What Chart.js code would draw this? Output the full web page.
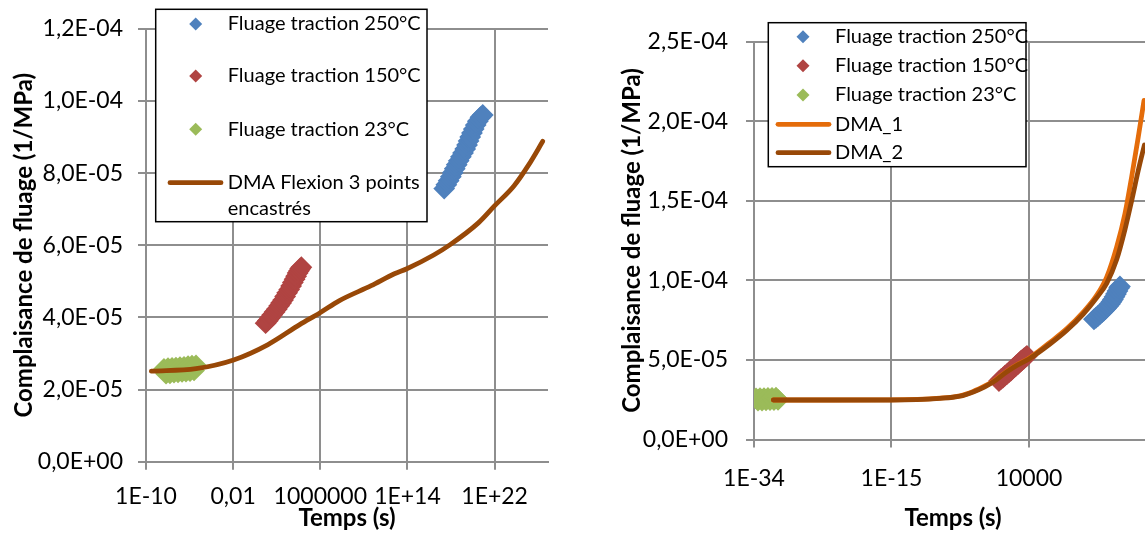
<!DOCTYPE html>
<html><head><meta charset="utf-8">
<script src="https://cdn.jsdelivr.net/npm/chart.js@4.4.1/dist/chart.umd.min.js"></script>
<style>
html,body{margin:0;padding:0;background:#fff;overflow:hidden;width:1145px;height:533px;}
#wrap{position:relative;width:1145px;height:533px;overflow:hidden;background:#fff;}
#cL{position:absolute;left:0;top:0;}
#cR{position:absolute;left:590px;top:0;}
</style></head><body>
<div id="wrap"><canvas id="cL" width="560" height="533"></canvas><canvas id="cR" width="600" height="533"></canvas></div>
<script>
// ---------- labels ----------
const seriesLabels = ["Fluage traction 250°C", "Fluage traction 150°C", "Fluage traction 23°C"];
const leftLineLabel = "DMA Flexion 3 points encastrés";
const leftLineLabelLines = ["DMA Flexion 3 points", "encastrés"];
const rightLineLabels = ["DMA_1", "DMA_2"];
const xTitle = "Temps (s)";
const yTitle = "Complaisance de fluage (1/MPa)";

// ---------- tick values & labels ----------
const leftXTicks = [1e-10, 1e-2, 1e6, 1e14, 1e22];
const leftXTickLabels = ["1E-10", "0,01", "1000000", "1E+14", "1E+22"];
const leftYTicks = [0, 2e-5, 4e-5, 6e-5, 8e-5, 1e-4, 1.2e-4];
const leftYTickLabels = ["0,0E+00", "2,0E-05", "4,0E-05", "6,0E-05", "8,0E-05", "1,0E-04", "1,2E-04"];
const rightXTicks = [1e-34, 1e-15, 1e4];
const rightXTickLabels = ["1E-34", "1E-15", "10000"];
const rightYTicks = [0, 5e-5, 1e-4, 1.5e-4, 2e-4, 2.5e-4];
const rightYTickLabels = ["0,0E+00", "5,0E-05", "1,0E-04", "1,5E-04", "2,0E-04", "2,5E-04"];

// ---------- LEFT chart data (x stored as log10 of time in s, y in 1/MPa) ----------
const L250_logt = [17.37,17.57,17.78,17.98,18.16,18.34,18.52,18.70,18.90,19.10,19.30,19.47,19.61,19.76,19.92,20.08,20.26,20.46,20.70,20.91];
const L250_J    = [7.57e-5,7.68e-5,7.79e-5,7.90e-5,8.01e-5,8.12e-5,8.23e-5,8.34e-5,8.45e-5,8.56e-5,8.67e-5,8.78e-5,8.89e-5,9.00e-5,9.11e-5,9.22e-5,9.33e-5,9.44e-5,9.55e-5,9.61e-5];
const L150_logt = [0.98,1.18,1.39,1.59,1.80,2.01,2.22,2.40,2.58,2.77,2.95,3.14,3.32,3.48,3.64,3.78,3.92,4.04,4.15,4.26];
const L150_J    = [3.84e-5,3.91e-5,3.99e-5,4.07e-5,4.15e-5,4.23e-5,4.32e-5,4.40e-5,4.48e-5,4.58e-5,4.68e-5,4.77e-5,4.87e-5,4.97e-5,5.06e-5,5.14e-5,5.23e-5,5.29e-5,5.35e-5,5.39e-5];
const L23_logt  = [-8.35,-8.16,-7.98,-7.80,-7.61,-7.43,-7.25,-7.06,-6.88,-6.69,-6.51,-6.33,-6.14,-5.96,-5.78,-5.59,-5.41];
const L23_J     = [2.57e-5,2.44e-5,2.59e-5,2.45e-5,2.60e-5,2.47e-5,2.61e-5,2.48e-5,2.62e-5,2.49e-5,2.63e-5,2.50e-5,2.65e-5,2.51e-5,2.66e-5,2.53e-5,2.67e-5];
const LDMA_logt = [-9.51,-5.41,-1.96,1.16,4.11,5.98,7.72,10.67,12.8,13.95,16.41,17.89,20.51,21.99,23.79,25.11,26.42];
const LDMA_J    = [2.51e-5,2.58e-5,2.82e-5,3.24e-5,3.80e-5,4.13e-5,4.46e-5,4.88e-5,5.21e-5,5.35e-5,5.73e-5,6.01e-5,6.62e-5,7.09e-5,7.65e-5,8.22e-5,8.88e-5];

// ---------- RIGHT chart data ----------
const R250_logt = [12.98,13.25,13.53,13.81,14.08,14.36,14.64,14.91,15.19,15.40,15.60,15.81,16.02,16.23,16.44,16.57];
const R250_J    = [7.55e-5,7.65e-5,7.76e-5,7.87e-5,7.98e-5,8.10e-5,8.23e-5,8.37e-5,8.51e-5,8.65e-5,8.79e-5,8.96e-5,9.14e-5,9.33e-5,9.52e-5,9.61e-5];
const R150_logt = [-0.15,0.13,0.41,0.68,0.96,1.24,1.51,1.76,2.00,2.23,2.48,2.69,2.89,3.10,3.31,3.52,3.72];
const R150_J    = [3.67e-5,3.79e-5,3.89e-5,4.01e-5,4.11e-5,4.23e-5,4.33e-5,4.45e-5,4.55e-5,4.65e-5,4.74e-5,4.84e-5,4.93e-5,5.01e-5,5.09e-5,5.17e-5,5.25e-5];
const R23_logt  = [-33.72,-33.45,-33.17,-32.89,-32.62,-32.34,-32.07,-31.79,-31.51,-31.24,-30.96,-30.68];
const R23_J     = [2.58e-5,2.44e-5,2.59e-5,2.45e-5,2.60e-5,2.46e-5,2.61e-5,2.47e-5,2.62e-5,2.48e-5,2.63e-5,2.49e-5];
const RDMA1_logt = [-31.33,-24.9,-15,-8.3,-5.5,-3.7,-2.1,-0.9,0.9,2.5,4.0,6.9,9.2,11.5,13.35,14.74,16.12,17.27,18.19,19.1,19.9];
const RDMA1_J    = [2.48e-5,2.48e-5,2.49e-5,2.60e-5,2.75e-5,3.02e-5,3.36e-5,3.66e-5,4.28e-5,4.74e-5,5.10e-5,6.10e-5,6.95e-5,8.00e-5,9.05e-5,1.02e-4,1.21e-4,1.42e-4,1.65e-4,1.90e-4,2.13e-4];
const RDMA2_logt = [-31.33,-24.9,-15,-8.3,-5.5,-3.7,-2.1,-0.9,0.9,2.5,4.0,6.9,9.2,11.5,13.35,14.74,16.12,17.27,18.19,19.1,19.95];
const RDMA2_J    = [2.48e-5,2.48e-5,2.48e-5,2.58e-5,2.72e-5,2.99e-5,3.31e-5,3.62e-5,4.24e-5,4.70e-5,5.06e-5,6.00e-5,6.85e-5,7.88e-5,8.90e-5,9.81e-5,1.13e-4,1.32e-4,1.50e-4,1.69e-4,1.85e-4];

// ---------- styles ----------
const C_BLUE = '#4F81BD', C_RED = '#B04442', C_GREEN = '#9BBB59', C_BROWN = '#984807', C_ORANGE = '#E46C0A';
const GRID = '#8E8E8E';
const FONT = 'Lato';

function pts(logt, vals) { return logt.map((e, i) => ({ x: Math.pow(10, e), y: vals[i] })); }

function markerDS(label, logt, vals, color) {
  return { label, data: pts(logt, vals), showLine: false, pointStyle: 'rectRot', pointRadius: 9.5,
    backgroundColor: color, borderColor: color, pointBackgroundColor: color, pointBorderColor: color,
    pointBorderWidth: 2, order: 2 };
}
function lineDS(label, logt, vals, color, order) {
  return { label, data: pts(logt, vals), showLine: true, pointRadius: 0, borderColor: color,
    backgroundColor: color, borderWidth: 4.8, borderCapStyle: 'round', borderJoinStyle: 'round',
    cubicInterpolationMode: 'monotone', order };
}

function makeOptions(c) {
  return {
    responsive: false, animation: false, devicePixelRatio: 1,
    layout: { padding: { left: 0, top: c.top, right: c.right, bottom: 0 } },
    plugins: { legend: { display: false }, tooltip: { enabled: false } },
    scales: {
      x: {
        type: 'logarithmic', position: 'bottom', min: c.xMin, max: c.xMax,
        afterBuildTicks: s => { s.ticks = c.xTicks.map(v => ({ value: v })); },
        afterFit: s => { s.height = c.xH; },
        ticks: { autoSkip: false, maxRotation: 0, minRotation: 0, padding: c.xPad, color: '#000',
          font: { family: FONT, size: 23 }, callback: (v, i) => c.xLabels[i] },
        grid: { color: GRID, lineWidth: 2, drawTicks: true, tickLength: 8, tickColor: GRID, tickWidth: 2 },
        border: { display: true, color: GRID, width: 2 },
        title: { display: true, text: xTitle, color: '#000', font: { family: FONT, size: 24, weight: 'bold' }, padding: { top: 0, bottom: 0 } }
      },
      y: {
        type: 'linear', position: 'left', min: 0, max: c.yMax,
        afterBuildTicks: s => { s.ticks = c.yTicks.map(v => ({ value: v })); },
        afterFit: s => { s.width = c.yW; },
        ticks: { padding: c.yPad, color: '#000', font: { family: FONT, size: 23 }, callback: (v, i) => c.yLabels[i] },
        grid: { color: GRID, lineWidth: 2, drawTicks: true, tickLength: 8, tickColor: GRID, tickWidth: 2 },
        border: { display: true, color: GRID, width: 2 },
        title: { display: true, text: yTitle, color: '#000', font: { family: FONT, size: 24, weight: 'bold' }, padding: { top: c.yTitlePad, bottom: 0 } }
      }
    }
  };
}

function legendPlugin(spec) {
  return {
    id: 'boxLegend',
    afterDraw(chart) {
      const ctx = chart.ctx;
      ctx.save();
      const [bx, by, bw, bh] = spec.box;
      ctx.fillStyle = '#fff';
      ctx.fillRect(bx, by, bw, bh);
      ctx.lineWidth = 1.5;
      ctx.strokeStyle = '#000';
      ctx.strokeRect(bx, by, bw, bh);
      ctx.font = '20px ' + FONT;
      ctx.textBaseline = 'middle';
      ctx.textAlign = 'left';
      spec.rows.forEach(r => {
        const ds = chart.data.datasets[r.ds];
        if (r.kind === 'marker') {
          const m = spec.markerX, s = 6.5;
          ctx.beginPath();
          ctx.moveTo(m, r.y - s); ctx.lineTo(m + s, r.y); ctx.lineTo(m, r.y + s); ctx.lineTo(m - s, r.y);
          ctx.closePath();
          ctx.fillStyle = ds.backgroundColor;
          ctx.fill();
        } else {
          ctx.beginPath();
          ctx.moveTo(spec.lineX0, r.y); ctx.lineTo(spec.lineX1, r.y);
          ctx.strokeStyle = ds.borderColor; ctx.lineWidth = ds.borderWidth; ctx.lineCap = 'round';
          ctx.stroke();
        }
        ctx.fillStyle = '#000';
        const lines = r.lines || [ds.label];
        lines.forEach((t, k) => ctx.fillText(t, spec.textX, r.y + k * spec.lh));
      });
      ctx.restore();
    }
  };
}

function build() {
  // LEFT
  new Chart(document.getElementById('cL'), {
    type: 'scatter',
    data: { datasets: [
      markerDS(seriesLabels[0], L250_logt, L250_J, C_BLUE),
      markerDS(seriesLabels[1], L150_logt, L150_J, C_RED),
      markerDS(seriesLabels[2], L23_logt, L23_J, C_GREEN),
      lineDS(leftLineLabel, LDMA_logt, LDMA_J, C_BROWN, 0)
    ] },
    options: makeOptions({ top: 26, right: 12, xH: 71.3, yW: 146, xMin: 1e-10, xMax: Math.pow(10, 26.9),
      xTicks: leftXTicks, xLabels: leftXTickLabels, yTicks: leftYTicks, yLabels: leftYTickLabels, yMax: 1.2e-4,
      xPad: 13, yPad: 15, yTitlePad: 9.6 }),
    plugins: [legendPlugin({ box: [155.7, 9.3, 271.3, 212.4], markerX: 195.7, lineX0: 170, lineX1: 221, textX: 227.7, lh: 25.5,
      rows: [ { ds: 0, kind: 'marker', y: 24 }, { ds: 1, kind: 'marker', y: 76 }, { ds: 2, kind: 'marker', y: 129.3 },
              { ds: 3, kind: 'line', y: 182.7, lines: leftLineLabelLines } ] })]
  });
  // RIGHT
  new Chart(document.getElementById('cR'), {
    type: 'scatter',
    data: { datasets: [
      markerDS(seriesLabels[0], R250_logt, R250_J, C_BLUE),
      markerDS(seriesLabels[1], R150_logt, R150_J, C_RED),
      markerDS(seriesLabels[2], R23_logt, R23_J, C_GREEN),
      lineDS(rightLineLabels[0], RDMA1_logt, RDMA1_J, C_ORANGE, 1),
      lineDS(rightLineLabels[1], RDMA2_logt, RDMA2_J, C_BROWN, 0)
    ] },
    options: makeOptions({ top: 41.5, right: 38, xH: 93.5, yW: 164, xMin: 1e-34, xMax: 1e21,
      xTicks: rightXTicks, xLabels: rightXTickLabels, yTicks: rightYTicks, yLabels: rightYTickLabels, yMax: 2.5e-4,
      xPad: 17.7, yPad: 18, yTitlePad: 27.6 }),
    plugins: [legendPlugin({ box: [178.3, 22.7, 257.7, 144], markerX: 213, lineX0: 188, lineX1: 239, textX: 245, lh: 25,
      rows: [ { ds: 0, kind: 'marker', y: 36.7 }, { ds: 1, kind: 'marker', y: 65.7 }, { ds: 2, kind: 'marker', y: 95 },
              { ds: 3, kind: 'line', y: 124.3 }, { ds: 4, kind: 'line', y: 152.7 } ] })]
  });
}

const fontLoads = document.fonts ? Promise.all([
  document.fonts.load('23px Lato'), document.fonts.load('bold 24px Lato'), document.fonts.load('20px Lato')
]).catch(() => {}) : Promise.resolve();
fontLoads.then(build, build);
</script>
</body></html>
